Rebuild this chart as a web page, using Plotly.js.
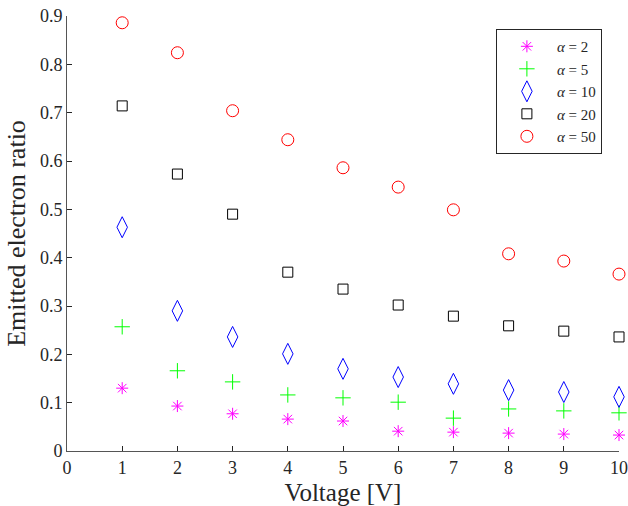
<!DOCTYPE html>
<html><head><meta charset="utf-8">
<script src="https://cdn.plot.ly/plotly-3.0.1.min.js"></script>
<style>body{margin:0;background:#fff}#c{width:628px;height:506px}</style>
</head><body><div id="c"></div>
<script>
const voltage = [1,2,3,4,5,6,7,8,9,10];
const alpha2  = [0.130,0.093,0.077,0.066,0.062,0.041,0.039,0.037,0.035,0.033];
const alpha5  = [0.257,0.166,0.143,0.116,0.110,0.101,0.068,0.087,0.083,0.079];
const alpha10 = [0.463,0.290,0.236,0.201,0.170,0.153,0.139,0.126,0.122,0.112];
const alpha20 = [0.714,0.573,0.490,0.370,0.335,0.302,0.279,0.259,0.248,0.236];
const alpha50 = [0.886,0.824,0.704,0.644,0.586,0.546,0.499,0.408,0.393,0.366];
const names = ['<i>α</i> = 2','<i>α</i> = 5','<i>α</i> = 10','<i>α</i> = 20','<i>α</i> = 50'];
const xTicks = [0,1,2,3,4,5,6,7,8,9,10];
const yTicks = [0,0.1,0.2,0.3,0.4,0.5,0.6,0.7,0.8,0.9];

function tr(y, name, symbol, color, size){
  return {x: voltage, y: y, name: name, type:'scatter', mode:'markers', cliponaxis:false,
    marker:{symbol: symbol, size: size, color: color, line:{color: color, width:1}}};
}
const data = [
  tr(alpha2, names[0], 'asterisk-open', '#ff00ff', 10),
  tr(alpha5, names[1], 'cross-thin-open', '#00ff00', 11),
  tr(alpha10, names[2], 'diamond-tall-open', '#0000ff', 15),
  tr(alpha20, names[3], 'square-open', '#000000', 10),
  tr(alpha50, names[4], 'circle-open', '#ff0000', 12)
];
const font = {family:'"Liberation Serif","DejaVu Serif",serif', color:'#262626'};
const layout = {
  width:628, height:506,
  margin:{l:67, r:9, t:16, b:55},
  paper_bgcolor:'#fff', plot_bgcolor:'#fff',
  font: Object.assign({size:18}, font),
  showlegend:true,
  legend:{x:0.777, y:0.97, xanchor:'left', yanchor:'top', bordercolor:'#262626', borderwidth:1,
    bgcolor:'#fff', font:Object.assign({size:15}, font), tracegroupgap:0, itemwidth:50},
  xaxis:{range:[0,10], tickvals:xTicks, ticktext:xTicks.map(String), ticks:'inside', ticklen:5,
    tickcolor:'#262626', showline:true, linecolor:'#555555', linewidth:1, showgrid:false, zeroline:false,
    mirror:false, tickfont:Object.assign({size:18}, font), ticklabeloverflow:'allow', automargin:false,
    title:{text:'Voltage [V]', font:Object.assign({size:25}, font), standoff:6}},
  yaxis:{range:[0,0.9], tickvals:yTicks, ticktext:yTicks.map(String), ticks:'inside', ticklen:5,
    tickcolor:'#262626', showline:true, linecolor:'#555555', linewidth:1, showgrid:false, zeroline:false,
    tickfont:Object.assign({size:18}, font), ticklabeloverflow:'allow', automargin:false,
    title:{text:'Emitted electron ratio', font:Object.assign({size:26}, font), standoff:6}}
};
Plotly.newPlot('c', data, layout, {displayModeBar:false});
</script></body></html>
